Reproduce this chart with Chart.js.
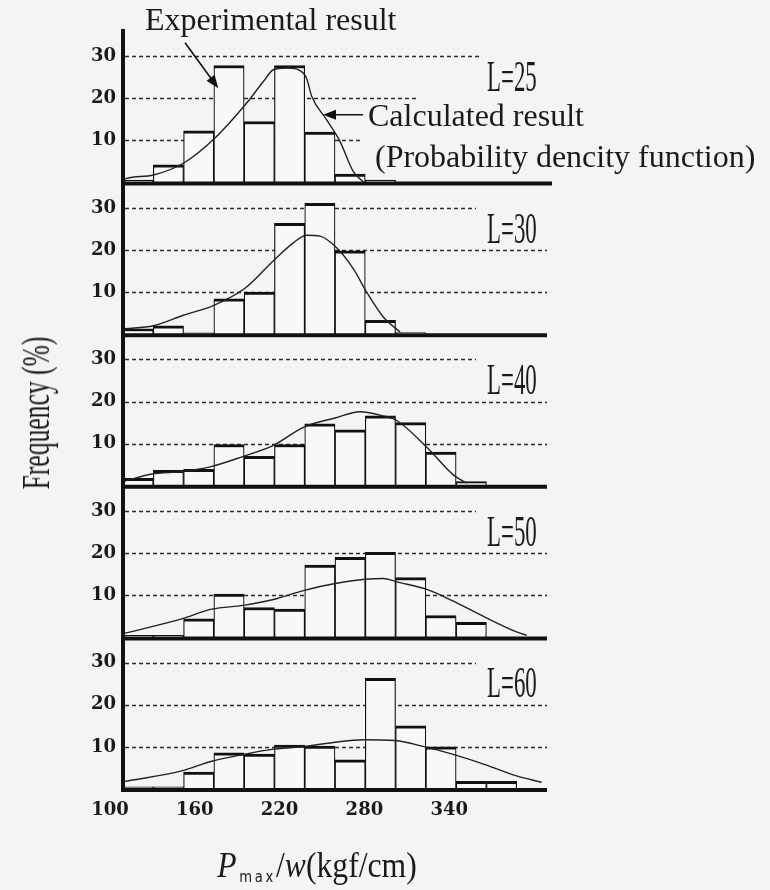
<!DOCTYPE html>
<html><head><meta charset="utf-8">
<script src="https://cdn.jsdelivr.net/npm/chart.js@4.4.1/dist/chart.umd.min.js"></script>
<style>
html,body{margin:0;padding:0;background:#f4f4f2;}
#wrap{position:relative;width:770px;height:890px;overflow:hidden;background:#f4f4f2;}
canvas{position:absolute;left:0;top:0;}
.t{position:absolute;font-family:"Liberation Serif","Times New Roman",serif;color:#1a1a1a;white-space:nowrap;line-height:1;}
.ann{font-size:32px;}
.lab{font-size:44px;transform:scaleX(0.52);transform-origin:0 0;}
</style></head><body>
<div id="wrap">
<canvas id="c" width="770" height="890"></canvas>
<div class="t ann" style="left:145px;top:3px">Experimental result</div>
<div class="t ann" style="left:368px;top:99px">Calculated result</div>
<div class="t ann" style="left:375px;top:140px">(Probability dencity function)</div>
<div class="t" style="left:36px;top:413px;font-size:40px;transform:translate(-50%,-50%) rotate(-90deg) scaleX(0.64);">Frequency (%)</div>
<div class="t" style="left:317px;top:847px;font-size:36px;transform:translateX(-50%) scaleX(0.88);"><i>P</i><span style="font-size:15px;letter-spacing:3px;position:relative;top:5px;margin-left:3px;font-family:'DejaVu Sans'">max</span>/<i>w</i>(kgf/cm)</div>
</div>
<script>
// ---- data ----
const binCenters = [110.71, 132.14, 153.57, 175.00, 196.43, 217.86, 239.29, 260.71, 282.14, 303.57, 325.00, 346.43, 367.86, 389.29];
const xTickValues = [100, 160, 220, 280, 340];
const yTickValues = [10, 20, 30];
const panelLabels = ['L=25', 'L=30', 'L=40', 'L=50', 'L=60'];

const freqL25 = [0.6, 4.2, 12.3, 27.8, 14.5, 27.8, 12.0, 2.0, 0.6, 0, 0, 0, 0, 0];
const freqL30 = [1.3, 2.0, 0.3, 8.4, 10.0, 26.3, 31.1, 19.8, 3.3, 0.4, 0, 0, 0, 0];
const freqL40 = [1.8, 3.7, 3.9, 9.8, 7.0, 9.8, 14.7, 13.3, 16.6, 15.0, 8.0, 1.0, 0, 0];
const freqL50 = [0.5, 0.5, 4.4, 10.3, 7.1, 6.7, 17.2, 19.0, 20.2, 14.2, 5.2, 3.6, 0, 0];
const freqL60 = [0.5, 0.5, 4.0, 8.6, 8.3, 10.4, 10.2, 6.9, 26.3, 15.0, 10.0, 1.8, 1.8, 0];

const pdfL25 = [[100,0.6],[102.6,1.0],[121.5,1.8],[142.7,4.6],[165.1,10.6],[187.5,18.9],[199.3,24.0],[206.4,26.8],[215.8,27.2],[225.2,26.6],[229.9,24.8],[233.5,20.5],[244.1,14.9],[253.5,9.8],[263.0,2.6],[270.0,0.2]];
const pdfL30 = [[101.4,1.3],[121.5,2.0],[142.7,4.5],[163.9,6.8],[186.3,10.9],[207.5,17.8],[220.5,21.7],[229.9,23.5],[239.4,23.3],[251.2,20.5],[263.0,15.5],[272.4,10.0],[284.2,4.1],[296.0,0.5]];
const pdfL40 = [[100.2,1.0],[120.3,2.8],[141.5,3.4],[161.6,4.5],[185.1,7.0],[206.4,9.6],[227.6,13.9],[250.0,16.1],[267.7,17.6],[284.2,16.6],[293.7,15.5],[316.0,8.8],[333.7,2.6],[343.2,0.6]];
const pdfL50 = [[101.4,1.0],[141.5,4.4],[162.8,6.7],[185.1,7.6],[206.4,9.0],[227.6,11.1],[250.0,12.8],[271.2,13.8],[284.2,14.0],[293.7,13.2],[316.0,11.3],[333.7,8.6],[356.1,4.8],[378.5,1.3],[385.6,0.5]];
const pdfL60 = [[101.4,1.8],[141.5,4.3],[162.8,6.6],[184.0,8.1],[205.2,9.4],[226.4,10.0],[250.0,11.1],[270.0,11.7],[292.5,11.5],[313.7,10.0],[334.9,8.1],[356.1,5.8],[378.5,3.1],[396.2,1.6]];

const freqs = [freqL25, freqL30, freqL40, freqL50, freqL60];
const pdfs = [pdfL25, pdfL30, pdfL40, pdfL50, pdfL60];
const panelIds = ['p1', 'p2', 'p3', 'p4', 'p5'];

// ---- chart ----
const INK = '#1a1a1a';
const tickFont = {family: 'DejaVu Serif', size: 18, weight: 'bold'};

const scales = {
  x: {
    type: 'linear', min: 100, max: 400, offset: false, position: 'bottom',
    grid: {display: false, drawTicks: false}, border: {display: false},
    afterBuildTicks: s => { s.ticks = xTickValues.map(v => ({value: v})); },
    afterFit: s => { s.height = 101; },
    ticks: {labelOffset: -13, padding: 11, color: INK, font: tickFont, maxRotation: 0, autoSkip: false}
  }
};
// later-added stacked axes are placed higher, so add p5 first
[...panelIds].reverse().forEach(id => {
  scales[id] = {
    type: 'linear', position: 'left', stack: 'panels', stackWeight: 1,
    min: 0, max: 36, offset: false,
    grid: {display: false, drawTicks: false},
    border: {display: true, color: '#111', width: 4, z: 1},
    afterBuildTicks: s => { s.ticks = yTickValues.map(v => ({value: v})); },
    afterFit: s => { s.width = 123; },
    ticks: {padding: 7, color: INK, font: tickFont}
  };
});

const datasets = [];
panelIds.forEach((id, i) => {
  datasets.push({
    type: 'line', label: panelLabels[i] + ' pdf', yAxisID: id, xAxisID: 'x',
    data: pdfs[i].map(([x, y]) => ({x, y})),
    borderColor: '#222', borderWidth: 1.4, pointRadius: 0, fill: false,
    cubicInterpolationMode: 'monotone', order: 1
  });
  datasets.push({
    type: 'bar', label: panelLabels[i], yAxisID: id, xAxisID: 'x',
    data: binCenters.map((x, k) => ({x, y: freqs[i][k]})),
    backgroundColor: '#f8f8f6', borderColor: '#111',
    borderWidth: {top: 3, left: 1.2, right: 1.2, bottom: 0},
    grouped: false, barPercentage: 1, categoryPercentage: 1, order: 2
  });
});

function drawArrow(ctx, x1, y1, x2, y2) {
  const ang = Math.atan2(y2 - y1, x2 - x1);
  const L = 13, W = 5;
  ctx.beginPath(); ctx.moveTo(x1, y1); ctx.lineTo(x2 - L * 0.6 * Math.cos(ang), y2 - L * 0.6 * Math.sin(ang)); ctx.stroke();
  ctx.beginPath();
  ctx.moveTo(x2, y2);
  ctx.lineTo(x2 - L * Math.cos(ang) + W * Math.sin(ang), y2 - L * Math.sin(ang) - W * Math.cos(ang));
  ctx.lineTo(x2 - L * Math.cos(ang) - W * Math.sin(ang), y2 - L * Math.sin(ang) + W * Math.cos(ang));
  ctx.closePath(); ctx.fill();
}

const panelDecor = {
  id: 'panelDecor',
  beforeDatasetsDraw(chart) {
    const {ctx, chartArea: a} = chart;
    ctx.save();
    ctx.strokeStyle = '#2a2a2a'; ctx.lineWidth = 1.5; ctx.setLineDash([4, 3]);
    panelIds.forEach((id, i) => {
      const s = chart.scales[id];
      yTickValues.forEach(v => {
        const y = Math.round(s.getPixelForValue(v)) + 0.5;
        let end = a.right;
        if (i === 0) end = v === 30 ? 480 : (v === 20 ? 418 : 362);
        else if (v === 30) end = 476;
        ctx.beginPath(); ctx.moveTo(a.left + 2, y); ctx.lineTo(end, y); ctx.stroke();
      });
    });
    ctx.restore();
  },
  afterDatasetsDraw(chart) {
    const {ctx, chartArea: a} = chart;
    const xs = chart.scales.x;
    ctx.save();
    ctx.strokeStyle = '#111'; ctx.lineWidth = 4;
    panelIds.forEach((id, i) => {
      const y = chart.scales[id].getPixelForValue(0) + 1;
      ctx.beginPath(); ctx.moveTo(a.left - 2, y); ctx.lineTo(i === 0 ? a.right + 5 : a.right, y); ctx.stroke();
    });
    // annotation arrows (panel L=25)
    const s1 = chart.scales.p1;
    ctx.lineWidth = 1.6; ctx.fillStyle = '#111';
    drawArrow(ctx, xs.getPixelForValue(143.9), s1.getPixelForValue(33.2), xs.getPixelForValue(167.4), s1.getPixelForValue(22.4));
    drawArrow(ctx, xs.getPixelForValue(269.8), s1.getPixelForValue(16.1), xs.getPixelForValue(241.5), s1.getPixelForValue(16.1));
    ctx.restore();
  }
};

const chart = new Chart(document.getElementById('c'), {
  type: 'bar',
  data: {datasets},
  options: {
    responsive: false, animation: false, events: [],
    layout: {padding: {top: 31, right: 223, bottom: 0, left: 0}},
    plugins: {legend: {display: false}, tooltip: {enabled: false}},
    scales
  },
  plugins: [panelDecor]
});

// panel labels placed from the panel scales
const wrap = document.getElementById('wrap');
panelIds.forEach((id, i) => {
  const s = chart.scales[id];
  const yMid = s.getPixelForValue(25);
  const d = document.createElement('div');
  d.className = 't lab';
  d.textContent = panelLabels[i];
  d.style.left = '487px';
  d.style.top = (yMid + 14.5 - 36.9) + 'px';
  wrap.appendChild(d);
});
</script>
</body></html>
